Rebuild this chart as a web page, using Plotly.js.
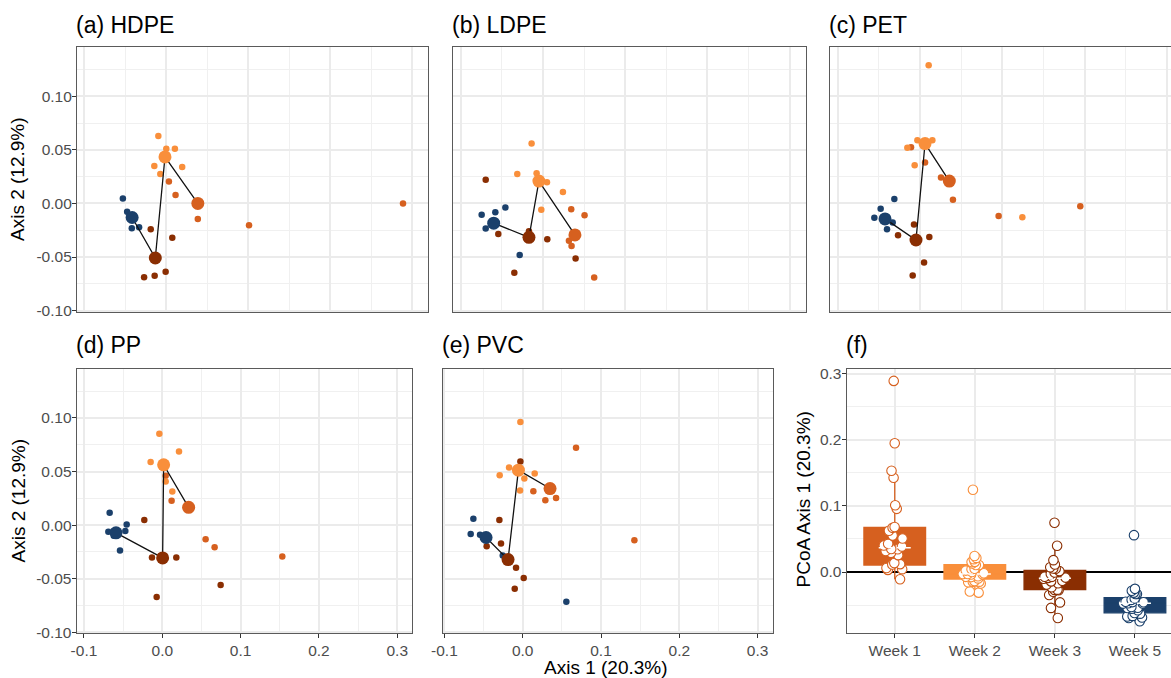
<!DOCTYPE html>
<html><head><meta charset="utf-8">
<script src="https://cdn.plot.ly/plotly-3.0.1.min.js"></script>
<style>html,body{margin:0;padding:0;overflow:hidden;background:#fff}#chart{width:1183px;height:678px}</style>
</head><body><div id="chart"></div>
<script>
// ---------- categories & labels ----------
const weeks = ['Week 1', 'Week 2', 'Week 3', 'Week 5'];
const weekColors = ['#D6601F', '#F98F3B', '#8A2E02', '#1B406B'];
const panelTitles = ['(a) HDPE', '(b) LDPE', '(c) PET', '(d) PP', '(e) PVC', '(f)'];
const xTickVals = [-0.1, 0, 0.1, 0.2, 0.3];
const xTickText = ['-0.1', '0.0', '0.1', '0.2', '0.3'];
const yTickVals = [-0.1, -0.05, 0, 0.05, 0.1];
const yTickText = ['-0.10', '-0.05', '0.00', '0.05', '0.10'];
const fTickVals = [0, 0.1, 0.2, 0.3];
const fTickText = ['0.0', '0.1', '0.2', '0.3'];

// ---------- (a) HDPE ----------
const hdpe_w1_x = [0.0032, 0.0113, 0.0385, 0.101, 0.289];
const hdpe_w1_y = [0.0206, 0.0078, -0.0144, -0.0203, 0.0];
const hdpe_w2_x = [-0.0097, 0.0, 0.0105, -0.0146, 0.0194, -0.0073];
const hdpe_w2_y = [0.063, 0.051, 0.051, 0.035, 0.034, 0.0275];
const hdpe_w3_x = [-0.019, 0.0073, -0.0271, -0.0142, -0.0008];
const hdpe_w3_y = [-0.024, -0.0319, -0.0688, -0.0675, -0.0638];
const hdpe_w5_x = [-0.053, -0.0478, -0.0421, -0.0332, -0.045];
const hdpe_w5_y = [0.0047, -0.0078, -0.0231, -0.0222, -0.012];
const hdpe_cx = [0.0385, -0.0016, -0.0134, -0.0417];
const hdpe_cy = [0.0, 0.0434, -0.0509, -0.0131];

// ---------- (b) LDPE ----------
const ldpe_w1_x = [0.0344, 0.0506, 0.0316, 0.0348, 0.0623];
const ldpe_w1_y = [-0.0053, -0.0109, -0.0347, -0.0397, -0.0691];
const ldpe_w2_x = [-0.0138, -0.0312, -0.0077, 0.0049, 0.0243, -0.002];
const ldpe_w2_y = [0.0559, 0.0275, 0.0281, 0.0197, 0.0106, -0.0059];
const ldpe_w3_x = [-0.0696, -0.0543, 0.0053, 0.0397, -0.0348, -0.017];
const ldpe_w3_y = [0.0222, -0.0284, -0.0334, -0.0513, -0.0647, -0.026];
const ldpe_w5_x = [-0.0457, -0.0579, -0.0745, -0.0696, -0.0283];
const ldpe_w5_y = [-0.0037, -0.0081, -0.0106, -0.0234, -0.0481];
const ldpe_cx = [0.0389, -0.0049, -0.017, -0.0599];
const ldpe_cy = [-0.0294, 0.0209, -0.0316, -0.0184];

// ---------- (c) PET ----------
const pet_w1_x = [-0.0109, 0.0061, 0.0255, 0.04, 0.0955, 0.1947];
const pet_w1_y = [0.0525, 0.0381, 0.0241, 0.0034, -0.0116, -0.0025];
const pet_w2_x = [0.0105, -0.0032, 0.015, -0.0154, -0.0065, 0.1243];
const pet_w2_y = [0.129, 0.059, 0.059, 0.052, 0.0356, -0.0128];
const pet_w3_x = [-0.0073, -0.0267, 0.0113, 0.0049, -0.0089];
const pet_w3_y = [-0.0197, -0.0297, -0.0313, -0.055, -0.0672];
const pet_w5_x = [-0.0312, -0.0478, -0.0555, -0.0332, -0.0401];
const pet_w5_y = [0.0041, -0.005, -0.0134, -0.0178, -0.0241];
const pet_cx = [0.0356, 0.0061, -0.0049, -0.0425];
const pet_cy = [0.0209, 0.0559, -0.0341, -0.0144];

// ---------- (d) PP ----------
const pp_w1_x = [0.0043, 0.0119, 0.0553, 0.0668, 0.1532];
const pp_w1_y = [0.046, 0.0228, -0.0131, -0.0206, -0.0294];
const pp_w2_x = [-0.0038, 0.0213, -0.0149, 0.0043, 0.0128];
const pp_w2_y = [0.0853, 0.0688, 0.0588, 0.0406, 0.0313];
const pp_w3_x = [-0.023, -0.0132, 0.0179, 0.0745, -0.0072];
const pp_w3_y = [0.0047, -0.0303, -0.0303, -0.0559, -0.0672];
const pp_w5_x = [-0.0672, -0.0455, -0.0689, -0.0472, -0.054, -0.062];
const pp_w5_y = [0.0116, 0.0006, -0.0063, -0.0056, -0.0238, -0.01];
const pp_cx = [0.0336, 0.0017, 0.0004, -0.0591];
const pp_cy = [0.0166, 0.0563, -0.0306, -0.0072];

// ---------- (e) PVC ----------
const pvc_w1_x = [0.0681, 0.0136, 0.0289, 0.0426, 0.1426];
const pvc_w1_y = [0.0722, 0.0316, 0.0231, 0.0253, -0.0141];
const pvc_w2_x = [-0.003, -0.0174, -0.0294, 0.0153, 0.0021, -0.0034];
const pvc_w2_y = [0.0963, 0.0538, 0.0466, 0.0481, 0.0434, 0.0322];
const pvc_w3_x = [-0.003, -0.0298, -0.0277, -0.046, -0.0085, 0.0013, -0.0102];
const pvc_w3_y = [0.0594, 0.0047, -0.0172, -0.0197, -0.0397, -0.0494, -0.0594];
const pvc_w5_x = [-0.063, -0.0664, -0.0545, -0.0255, 0.0557];
const pvc_w5_y = [0.0059, -0.0084, -0.0091, -0.0284, -0.0716];
const pvc_cx = [0.0349, -0.0055, -0.0187, -0.0468];
const pvc_cy = [0.0341, 0.0513, -0.0322, -0.0116];

// ---------- (f) box summaries (PCoA Axis 1 by week) ----------
const box_q1 = [0.0106, -0.0106, -0.0266, -0.0618];
const box_median = [0.0367, -0.003, -0.0095, -0.0472];
const box_q3 = [0.0673, 0.011, 0.0025, -0.0387];
const box_lower = [-0.011, -0.031, -0.069, -0.075];
const box_upper = [0.1425, 0.025, 0.040, -0.0246];

// ---------- geometry ----------
const W = 1183, H = 678;
const FONT = 'Liberation Sans, Arial, Helvetica, sans-serif';
// panel boxes in px: [left, right, top, bottom]
const boxes = [
  [77, 428, 47.3, 311.7],
  [453.3, 805.7, 47.3, 311.7],
  [830.3, 1183, 47.3, 311.7],
  [76.7, 412.3, 369, 633.3],
  [443.3, 773.3, 369, 633.3],
  [846.7, 1183, 369, 633.3]
];
const xRanges = [[-0.109, 0.3195], [-0.109, 0.3195], [-0.109, 0.3195], [-0.1093, 0.3192], [-0.1014, 0.32]];
const yRange = [-0.101, 0.1457];

const panels = [
  {w: [[hdpe_w1_x, hdpe_w1_y], [hdpe_w2_x, hdpe_w2_y], [hdpe_w3_x, hdpe_w3_y], [hdpe_w5_x, hdpe_w5_y]], cx: hdpe_cx, cy: hdpe_cy},
  {w: [[ldpe_w1_x, ldpe_w1_y], [ldpe_w2_x, ldpe_w2_y], [ldpe_w3_x, ldpe_w3_y], [ldpe_w5_x, ldpe_w5_y]], cx: ldpe_cx, cy: ldpe_cy},
  {w: [[pet_w1_x, pet_w1_y], [pet_w2_x, pet_w2_y], [pet_w3_x, pet_w3_y], [pet_w5_x, pet_w5_y]], cx: pet_cx, cy: pet_cy},
  {w: [[pp_w1_x, pp_w1_y], [pp_w2_x, pp_w2_y], [pp_w3_x, pp_w3_y], [pp_w5_x, pp_w5_y]], cx: pp_cx, cy: pp_cy},
  {w: [[pvc_w1_x, pvc_w1_y], [pvc_w2_x, pvc_w2_y], [pvc_w3_x, pvc_w3_y], [pvc_w5_x, pvc_w5_y]], cx: pvc_cx, cy: pvc_cy}
];

const traces = [];
const layout = {
  width: W, height: H,
  margin: {l: 0, r: 0, t: 0, b: 0},
  paper_bgcolor: '#fff', plot_bgcolor: '#fff',
  showlegend: false,
  font: {family: FONT, color: '#000'},
  boxmode: 'overlay',
  annotations: []
};

const gridCol = '#EBEBEB', minorCol = '#F0F0F0', borderCol = '#5A5A5A', tickCol = '#333333', tickLab = '#4D4D4D';
const TICKSIZE = 15.5;

function axName(i) { return i === 0 ? '' : String(i + 1); }

panels.forEach((p, i) => {
  const s = axName(i);
  const b = boxes[i];
  const showX = i >= 3;
  const showY = (i === 0 || i === 3);
  layout['xaxis' + s] = {
    domain: [b[0] / W, b[1] / W], range: xRanges[i], anchor: 'y' + s,
    tickmode: 'array', tickvals: xTickVals, ticktext: xTickText,
    showticklabels: showX, ticks: showX ? 'outside' : '', ticklen: 4, tickwidth: 1, tickcolor: tickCol,
    tickfont: {size: TICKSIZE, color: tickLab, family: FONT}, ticklabelstandoff: -1,
    showgrid: true, gridcolor: gridCol, gridwidth: 2,
    minor: {tickmode: 'linear', tick0: 0.05, dtick: 0.1, showgrid: true, gridcolor: minorCol, gridwidth: 1, ticks: ''},
    zeroline: false, showline: true, mirror: true, linecolor: borderCol, linewidth: 1.1,
    fixedrange: true
  };
  layout['yaxis' + s] = {
    domain: [1 - b[3] / H, 1 - b[2] / H], range: yRange, anchor: 'x' + s,
    tickmode: 'array', tickvals: yTickVals, ticktext: yTickText,
    showticklabels: showY, ticks: showY ? 'outside' : '', ticklen: 4, tickwidth: 1, tickcolor: tickCol,
    tickfont: {size: TICKSIZE, color: tickLab, family: FONT}, ticklabelstandoff: -3,
    showgrid: true, gridcolor: gridCol, gridwidth: 2,
    minor: {tickmode: 'linear', tick0: 0.025, dtick: 0.05, showgrid: true, gridcolor: minorCol, gridwidth: 1, ticks: ''},
    zeroline: false, showline: true, mirror: true, linecolor: borderCol, linewidth: 1.1,
    fixedrange: true
  };
  // small sample points
  p.w.forEach((xy, k) => {
    traces.push({type: 'scatter', mode: 'markers', x: xy[0], y: xy[1], xaxis: 'x' + s, yaxis: 'y' + s,
      marker: {size: 6.5, color: weekColors[k], line: {width: 0}}, hoverinfo: 'skip'});
  });
  // centroid path
  traces.push({type: 'scatter', mode: 'lines', x: p.cx, y: p.cy, xaxis: 'x' + s, yaxis: 'y' + s,
    line: {color: '#111', width: 1.3}, hoverinfo: 'skip'});
  // centroids
  traces.push({type: 'scatter', mode: 'markers', x: p.cx, y: p.cy, xaxis: 'x' + s, yaxis: 'y' + s,
    marker: {size: 13, color: weekColors, line: {width: 0}}, hoverinfo: 'skip'});
});

// ---------- (f) ----------
const fb = boxes[5];
layout.xaxis6 = {
  domain: [fb[0] / W, fb[1] / W], range: [0.4, 4.6], anchor: 'y6',
  tickmode: 'array', tickvals: [1, 2, 3, 4], ticktext: weeks,
  ticks: 'outside', ticklen: 4, tickwidth: 1, tickcolor: tickCol,
  tickfont: {size: TICKSIZE, color: tickLab, family: FONT}, ticklabelstandoff: -1,
  showgrid: true, gridcolor: gridCol, gridwidth: 2,
  zeroline: false, showline: true, mirror: true, linecolor: borderCol, linewidth: 1.1, fixedrange: true
};
layout.yaxis6 = {
  domain: [1 - fb[3] / H, 1 - fb[2] / H], range: [-0.0927, 0.307], anchor: 'x6',
  tickmode: 'array', tickvals: fTickVals, ticktext: fTickText,
  ticks: 'outside', ticklen: 4, tickwidth: 1, tickcolor: tickCol,
  tickfont: {size: TICKSIZE, color: tickLab, family: FONT}, ticklabelstandoff: -3,
  showgrid: true, gridcolor: gridCol, gridwidth: 2,
  minor: {tickmode: 'linear', tick0: 0.05, dtick: 0.1, showgrid: true, gridcolor: minorCol, gridwidth: 1, ticks: ''},
  zeroline: true, zerolinecolor: '#000', zerolinewidth: 1.3,
  showline: true, mirror: true, linecolor: borderCol, linewidth: 1.1, fixedrange: true
};

const weekSamples = [
  [].concat(hdpe_w1_x, ldpe_w1_x, pet_w1_x, pp_w1_x, pvc_w1_x),
  [].concat(hdpe_w2_x, ldpe_w2_x, pet_w2_x, pp_w2_x, pvc_w2_x),
  [].concat(hdpe_w3_x, ldpe_w3_x, pet_w3_x, pp_w3_x, pvc_w3_x),
  [].concat(hdpe_w5_x, ldpe_w5_x, pet_w5_x, pp_w5_x, pvc_w5_x)
];

weeks.forEach((w, k) => {
  traces.push({type: 'box', orientation: 'v', x: [k + 1], q1: [box_q1[k]], median: [box_median[k]], q3: [box_q3[k]],
    lowerfence: [box_lower[k]], upperfence: [box_upper[k]], xaxis: 'x6', yaxis: 'y6',
    width: 0.77, whiskerwidth: 0, fillcolor: weekColors[k], line: {color: weekColors[k], width: 1.3},
    boxpoints: false, hoverinfo: 'skip'});
});
weeks.forEach((w, k) => {
  traces.push({type: 'scatter', mode: 'lines', x: [k + 1 - 0.2, k + 1 + 0.2], y: [box_median[k], box_median[k]],
    xaxis: 'x6', yaxis: 'y6', line: {color: '#fff', width: 1.4, dash: '5px,4px'}, hoverinfo: 'skip'});
});
weeks.forEach((w, k) => {
  traces.push({type: 'box', orientation: 'v', x: weekSamples[k].map(() => k + 1), y: weekSamples[k], xaxis: 'x6', yaxis: 'y6',
    width: 0.77, boxpoints: 'all', jitter: 0.4, pointpos: 0,
    fillcolor: 'rgba(0,0,0,0)', line: {color: 'rgba(0,0,0,0)', width: 0},
    marker: {symbol: 'circle', size: 9.5, color: '#fff', line: {color: weekColors[k], width: 1.1}},
    hoverinfo: 'skip'});
});

// ---------- titles ----------
const titlePos = [[77, 24.5], [453.3, 24.5], [830.3, 24.5], [76.7, 345], [443.3, 345], [846.7, 345]];
panelTitles.forEach((t, i) => {
  layout.annotations.push({text: t, xref: 'paper', yref: 'paper', x: (titlePos[i][0] - 3) / W, y: 1 - titlePos[i][1] / H,
    xanchor: 'left', yanchor: 'middle', showarrow: false, font: {size: 23, color: '#000', family: FONT}});
});
const axisTitles = [
  {text: 'Axis 2 (12.9%)', x: 17.5, y: 179.5, rot: -90},
  {text: 'Axis 2 (12.9%)', x: 17.5, y: 501, rot: -90},
  {text: 'Axis 1 (20.3%)', x: 606, y: 667.5, rot: 0},
  {text: 'PCoA Axis 1 (20.3%)', x: 802.5, y: 500, rot: -90}
];
axisTitles.forEach(a => {
  layout.annotations.push({text: a.text, xref: 'paper', yref: 'paper', x: a.x / W, y: 1 - a.y / H,
    xanchor: 'center', yanchor: 'middle', textangle: a.rot, showarrow: false, borderpad: 0,
    font: {size: 19, color: '#000', family: FONT}});
});

Plotly.newPlot('chart', traces, layout, {staticPlot: true, displayModeBar: false});
</script></body></html>
